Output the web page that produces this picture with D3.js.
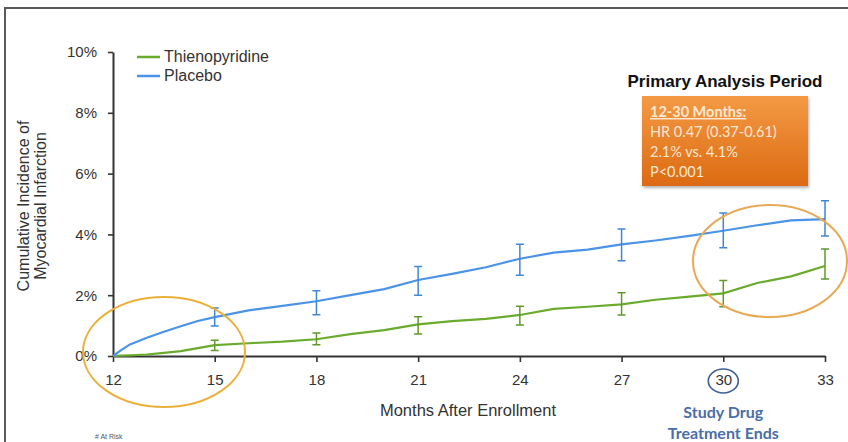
<!DOCTYPE html>
<html>
<head>
<meta charset="utf-8">
<script src="https://cdn.jsdelivr.net/npm/d3@7"></script>
<style>
  html, body { margin: 0; padding: 0; background: #fff; }
  svg { display: block; font-family: "Liberation Sans", Arial, sans-serif; }
</style>
</head>
<body>
<div id="chart"></div>
<script>
// values (percent)
const months = [12, 12.25, 12.5, 13, 13.5, 14, 14.5, 15, 16, 17, 18, 19, 20, 21, 22, 23, 24, 25, 26, 27, 28, 29, 30, 31, 32, 33];
const placebo = [0, 0.2, 0.38, 0.6, 0.8, 0.98, 1.15, 1.28, 1.5, 1.65, 1.8, 2.0, 2.2, 2.5, 2.7, 2.92, 3.2, 3.4, 3.5, 3.67, 3.8, 3.95, 4.12, 4.3, 4.46, 4.5];
const thieno = [0, 0.01, 0.02, 0.05, 0.1, 0.16, 0.26, 0.36, 0.42, 0.47, 0.55, 0.72, 0.85, 1.04, 1.15, 1.22, 1.35, 1.55, 1.62, 1.7, 1.85, 1.95, 2.06, 2.4, 2.62, 2.96];

const barMonths = [15, 18, 21, 24, 27, 30, 33];
const placeboLo = [0.99, 1.36, 2.0, 2.66, 3.13, 3.56, 3.95];
const placeboHi = [1.58, 2.15, 2.94, 3.68, 4.18, 4.7, 5.11];
const thienoLo = [0.18, 0.37, 0.72, 1.02, 1.35, 1.62, 2.53];
const thienoHi = [0.52, 0.76, 1.29, 1.64, 2.08, 2.48, 3.52];

const xTicks = [12, 15, 18, 21, 24, 27, 30, 33];
const yTicks = [0, 2, 4, 6, 8, 10];
const seriesNames = ['Thienopyridine', 'Placebo'];
const boxLines = ['12-30 Months:', 'HR 0.47 (0.37-0.61)', '2.1% vs. 4.1%', 'P<0.001'];

const W = 848, H = 442;
const green = '#6aab2e', blue = '#4b93e6';

const svg = d3.select('#chart').append('svg').attr('width', W).attr('height', H);

// slide frame
svg.append('path').attr('d', 'M5,442V8H848').attr('fill', 'none').attr('stroke', '#5a5a5a').attr('stroke-width', 2);

const x = d3.scaleLinear().domain([12, 33]).range([113, 825]);
const y = d3.scaleLinear().domain([0, 10]).range([356, 52]);

// axes
const yAxis = svg.append('g').attr('transform', 'translate(113,0)')
  .call(d3.axisLeft(y).tickValues(yTicks).tickSize(5).tickSizeOuter(0).tickPadding(11).tickFormat(d => d + '%'));
const xAxis = svg.append('g').attr('transform', 'translate(0,356)')
  .call(d3.axisBottom(x).tickValues(xTicks).tickSize(6).tickSizeOuter(0).tickPadding(12));
[yAxis, xAxis].forEach(a => {
  a.select('.domain').attr('stroke', '#333').attr('stroke-width', 2);
  a.selectAll('.tick line').attr('stroke', '#333').attr('stroke-width', 1.6);
  a.selectAll('.tick text').attr('fill', '#333').style('font-size', '15px').style('font-family', '"Liberation Sans", Arial, sans-serif');
});

// curves
const line = d3.line().x(d => x(d[0])).y(d => y(d[1]));
svg.append('path').datum(months.map((m, i) => [m, thieno[i]]))
  .attr('d', line).attr('fill', 'none').attr('stroke', green).attr('stroke-width', 2.2);
svg.append('path').datum(months.map((m, i) => [m, placebo[i]]))
  .attr('d', line).attr('fill', 'none').attr('stroke', blue).attr('stroke-width', 2.2);

// error bars
function bars(lo, hi, col) {
  const g = svg.append('g').attr('stroke', col).attr('stroke-width', 1.5).attr('fill', 'none');
  barMonths.forEach((m, i) => {
    const cx = x(m), y0 = y(lo[i]), y1 = y(hi[i]);
    g.append('path').attr('d', `M${cx},${y0}V${y1}M${cx - 4},${y0}H${cx + 4}M${cx - 4},${y1}H${cx + 4}`);
  });
}
bars(thienoLo, thienoHi, '#5f9a2a');
bars(placeboLo, placeboHi, '#3f88d8');

// highlight ellipses
svg.append('ellipse').attr('cx', 164).attr('cy', 352).attr('rx', 81).attr('ry', 55)
  .attr('fill', 'none').attr('stroke', '#eab03a').attr('stroke-width', 2);
svg.append('ellipse').attr('cx', 770).attr('cy', 261).attr('rx', 77).attr('ry', 56)
  .attr('fill', 'none').attr('stroke', '#e8a955').attr('stroke-width', 2);

// circled 30
svg.append('ellipse').attr('cx', x(30)).attr('cy', 381).attr('rx', 15).attr('ry', 12)
  .attr('fill', 'none').attr('stroke', '#3d5f92').attr('stroke-width', 1.6);

// axis titles
svg.append('text').attr('x', 468).attr('y', 416).attr('text-anchor', 'middle')
  .attr('fill', '#333').style('font-size', '16.5px').text('Months After Enrollment');
const yt = svg.append('text').attr('transform', 'translate(0,206) rotate(-90)')
  .attr('text-anchor', 'middle').attr('fill', '#333').style('font-size', '16px');
yt.append('tspan').attr('x', 0).attr('y', 29).text('Cumulative Incidence of');
yt.append('tspan').attr('x', 0).attr('y', 46).text('Myocardial Infarction');

svg.append('text').attr('x', x(30)).attr('y', 418).attr('text-anchor', 'middle')
  .attr('fill', '#4a6ea6').style('font-family', 'Lato, sans-serif').style('font-weight', 'bold').style('font-size', '16px').text('Study Drug');
svg.append('text').attr('x', x(30)).attr('y', 439).attr('text-anchor', 'middle')
  .attr('fill', '#4a6ea6').style('font-family', 'Lato, sans-serif').style('font-weight', 'bold').style('font-size', '16px').text('Treatment Ends');

svg.append('text').attr('x', 95).attr('y', 439).attr('fill', '#555').style('font-size', '7px').text('# At Risk');

// legend
const leg = svg.append('g');
[green, blue].forEach((c, i) => {
  leg.append('line').attr('x1', 137).attr('x2', 160).attr('y1', 57 + i * 19).attr('y2', 57 + i * 19)
    .attr('stroke', c).attr('stroke-width', 2.5);
  leg.append('text').attr('x', 164).attr('y', 62 + i * 19).attr('fill', '#333').style('font-size', '16px').text(seriesNames[i]);
});

// primary analysis box
svg.append('text').attr('x', 725).attr('y', 87).attr('text-anchor', 'middle').attr('fill', '#111')
  .style('font-weight', 'bold').style('font-size', '17px').text('Primary Analysis Period');
const defs = svg.append('defs');
const grad = defs.append('linearGradient').attr('id', 'og').attr('x1', 0).attr('y1', 0).attr('x2', 0).attr('y2', 1);
grad.append('stop').attr('offset', 0).attr('stop-color', '#f49a45');
grad.append('stop').attr('offset', 1).attr('stop-color', '#dc6a12');
const flt = defs.append('filter').attr('id', 'sh').attr('x', -0.1).attr('y', -0.1).attr('width', 1.3).attr('height', 1.3);
flt.append('feDropShadow').attr('dx', 1).attr('dy', 2).attr('stdDeviation', 1.5).attr('flood-opacity', 0.3);
svg.append('rect').attr('x', 642).attr('y', 96).attr('width', 166).attr('height', 90)
  .attr('fill', 'url(#og)').attr('filter', 'url(#sh)');
boxLines.forEach((t, i) => {
  svg.append('text').attr('x', 650).attr('y', 117 + i * 20).attr('fill', '#fde8d4')
    .style('font-family', 'Lato, sans-serif').style('font-size', '14.5px')
    .style('text-decoration', i === 0 ? 'underline' : 'none').style('font-weight', i === 0 ? 'bold' : 'normal')
    .text(t);
});
</script>
</body>
</html>
